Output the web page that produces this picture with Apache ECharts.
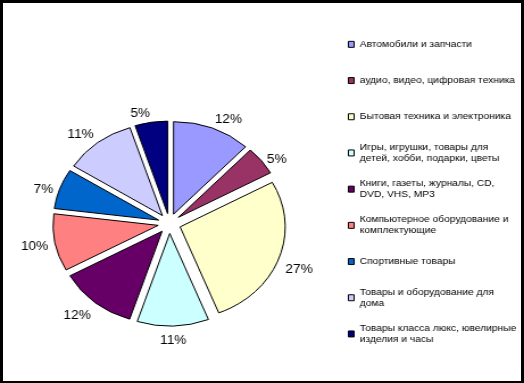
<!DOCTYPE html>
<html>
<head>
<meta charset="utf-8">
<script src="https://cdn.jsdelivr.net/npm/echarts@6/dist/echarts.min.js"></script>
<style>
  html, body { margin: 0; padding: 0; background: #fff; }
  #frame { position: relative; width: 524px; height: 383px; background: #000; overflow: hidden; }
  #inner { position: absolute; left: 3px; top: 3px; width: 518px; height: 378px; background: #fff; }
  #chart { position: absolute; left: 0; top: 0; width: 461px; height: 383px; transform: scaleX(1.1367); transform-origin: 0 0; }
</style>
</head>
<body>
<div id="frame"><div id="inner"></div><div id="chart"></div></div>
<script>
// Categories (legend names, with the legend's line breaks)
const categories = [
  "Автомобили и запчасти",
  "аудио, видео, цифровая техника",
  "Бытовая техника и электроника",
  "Игры, игрушки, товары для\nдетей, хобби, подарки, цветы",
  "Книги, газеты, журналы, CD,\nDVD, VHS, MP3",
  "Компьютерное оборудование и\nкомплектующие",
  "Спортивные товары",
  "Товары и оборудование для\nдома",
  "Товары класса люкс, ювелирные\nизделия и часы"
];
// Share of each category, %
const shares = [12, 5, 27, 11, 12, 10, 7, 11, 5];
const colors = ["#9999FF", "#993366", "#FFFFCC", "#CCFFFF", "#660066", "#FF8080", "#0066CC", "#CCCCFF", "#000080"];

const LH = 10.7;
const center = [149, 223.5];
const offset = 10;

const pieData = categories.map((name, i) => ({
  name: name, value: shares[i], selected: true,
  itemStyle: { color: colors[i] }
}));

const legendData = categories.map(name => {
  const lines = name.split("\n").length;
  return {
    name: name,
    textStyle: { padding: lines > 1 ? [LH, 0, 0, 0] : [LH, 0, LH, 0] }
  };
});

// Excel-like "outside end" placement: the label box touches the anchor point
function excelLabelLayout(p) {
  const r = p.labelRect;
  const ax = p.align === 'left' ? r.x : (p.align === 'right' ? r.x + r.width : r.x + r.width / 2);
  const ay = r.y + r.height / 2;
  const vx = ax - center[0], vy = ay - center[1];
  const len = Math.sqrt(vx * vx + vy * vy) || 1;
  const dx = vx / len, dy = vy / len;
  const out = { dy: 3 };
  if (dy > 0.3) out.verticalAlign = 'top';
  else if (dy < -0.7) out.verticalAlign = 'bottom';
  if (Math.abs(dx) < 0.1) out.align = 'center';
  return out;
}

const chart = echarts.init(document.getElementById('chart'), null, { renderer: 'canvas' });
chart.setOption({
  animation: false,
  backgroundColor: 'transparent',
  color: colors,
  legend: {
    orient: 'vertical',
    left: 306,
    top: 28.3,
    padding: 0,
    itemGap: 36.2 - 3 * LH,
    itemWidth: 5,
    itemHeight: 6,
    selectedMode: false,
    icon: 'rect',
    itemStyle: { borderColor: '#000', borderWidth: 1 },
    textStyle: { fontFamily: 'Liberation Sans, Arial, sans-serif', fontSize: 9, color: '#000', lineHeight: LH },
    data: legendData
  },
  series: [
    {
      type: 'pie',
      center: center,
      radius: 92.5,
      startAngle: 90,
      clockwise: true,
      selectedMode: 'multiple',
      selectedOffset: offset,
      avoidLabelOverlap: false,
      silent: true,
      emphasis: { disabled: true },
      itemStyle: { borderColor: '#000', borderWidth: 1 },
      select: { itemStyle: { borderColor: '#000', borderWidth: 1 } },
      label: {
        show: true,
        position: 'outside',
        formatter: '{c}%',
        distanceToLabelLine: 0,
        fontFamily: 'Liberation Sans, Arial, sans-serif',
        fontSize: 12,
        color: '#000'
      },
      labelLine: { show: false, length: 6, length2: 0 },
      labelLayout: excelLabelLayout,
      data: pieData
    }
  ]
});
</script>
</body>
</html>
